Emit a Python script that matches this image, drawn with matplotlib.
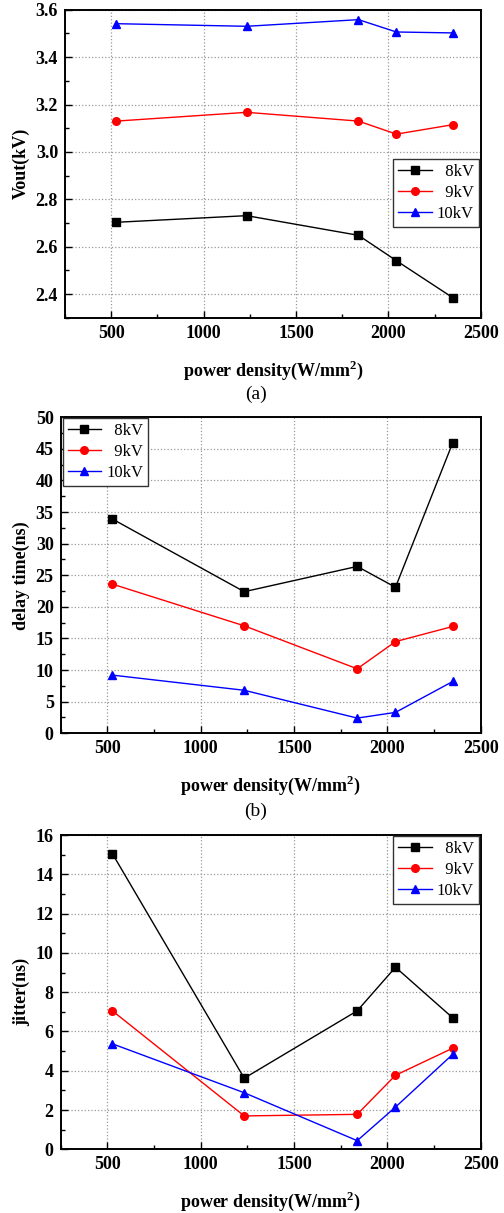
import matplotlib
matplotlib.use("Agg")
import matplotlib.pyplot as plt
from matplotlib.ticker import MultipleLocator

plt.rcParams['font.family'] = ['Liberation Serif', 'DejaVu Serif']
plt.rcParams['mathtext.fontset'] = 'custom'
plt.rcParams['mathtext.rm'] = 'Liberation Serif:bold'
plt.rcParams['mathtext.bf'] = 'Liberation Serif:bold'

# power density (W/mm^2)
power_density = [527, 1233, 1838, 2043, 2350]
series_labels = ['  8kV', '  9kV', '10kV']

# (a) output voltage, kV
vout_8kv = [2.703, 2.731, 2.648, 2.541, 2.384]
vout_9kv = [3.130, 3.167, 3.130, 3.075, 3.115]
vout_10kv = [3.541, 3.530, 3.558, 3.506, 3.502]

# (b) delay time, ns
delay_8kv = [33.9, 22.4, 26.4, 23.1, 46.0]
delay_9kv = [23.6, 17.0, 10.2, 14.5, 16.9]
delay_10kv = [9.2, 6.8, 2.4, 3.3, 8.2]

# (c) jitter, ns
jitter_8kv = [15.05, 3.62, 7.05, 9.27, 6.69]
jitter_9kv = [7.05, 1.70, 1.78, 3.77, 5.15]
jitter_10kv = [5.37, 2.88, 0.44, 2.15, 4.84]

colors = ['black', 'red', 'blue']
markers = ['s', 'o', '^']

fig = plt.figure(figsize=(5.04, 12.13), dpi=100)


def draw_panel(rect, series, ylim, ymajor, yminor, ylabel, legend_loc, anchor, yfmt):
    ax = fig.add_axes(rect)
    for vals, c, m, lab in zip(series, colors, markers, series_labels):
        ax.plot(power_density, vals, color=c, marker=m, markersize=5.5, linewidth=1.0, label=lab)
    ax.set_xlim(250, 2500)
    ax.set_ylim(*ylim)
    ax.xaxis.set_major_locator(MultipleLocator(500))
    ax.xaxis.set_minor_locator(MultipleLocator(250))
    ax.yaxis.set_major_locator(MultipleLocator(ymajor))
    ax.yaxis.set_minor_locator(MultipleLocator(yminor))
    ax.yaxis.set_major_formatter(yfmt)
    ax.grid(True, which='major', linestyle=':', color='#999999', linewidth=0.9)
    ax.tick_params(which='both', direction='in', top=False, right=False)
    ax.tick_params(which='major', length=5, width=1, labelsize=13, pad=5)
    ax.tick_params(which='minor', length=3, width=1)
    for lab in ax.get_xticklabels() + ax.get_yticklabels():
        lab.set_fontweight('bold')
    for sp in ax.spines.values():
        sp.set_linewidth(1.4)
    ax.set_ylabel(ylabel, fontsize=13, fontweight='bold', labelpad=4)
    ax.set_xlabel(r'power density(W/mm$^{\mathbf{2}}$)', fontsize=13, fontweight='bold', labelpad=12)
    leg = ax.legend(loc=legend_loc, bbox_to_anchor=anchor, fontsize=12, frameon=True, fancybox=False,
                    edgecolor='#333333', handlelength=2.0, borderaxespad=0.0,
                    handletextpad=0.3, labelspacing=0.3, borderpad=0.3)
    leg.get_frame().set_linewidth(1.0)
    leg.get_frame().set_alpha(1)
    return ax


draw_panel([0.129, 0.738, 0.825, 0.254], [vout_8kv, vout_9kv, vout_10kv],
           (2.3, 3.6), 0.2, 0.1, 'Vout(kV)', 'center right', (0.995, 0.405), '{x:.1f}')

draw_panel([0.1204, 0.3955, 0.8336, 0.2605], [delay_8kv, delay_9kv, delay_10kv],
           (0, 50), 5, 2.5, 'delay time(ns)', 'upper left', (0.005, 0.997), '{x:.0f}')

draw_panel([0.1204, 0.0525, 0.8336, 0.2591], [jitter_8kv, jitter_9kv, jitter_10kv],
           (0, 16), 2, 1, 'jitter(ns)', 'upper right', (0.995, 0.997), '{x:.0f}')

fig.text(0.508, 1 - 394 / 1213, '(a)', ha='center', va='center', fontsize=14)
fig.text(0.508, 1 - 811 / 1213, '(b)', ha='center', va='center', fontsize=14)

fig.savefig('out.png', dpi=100)
